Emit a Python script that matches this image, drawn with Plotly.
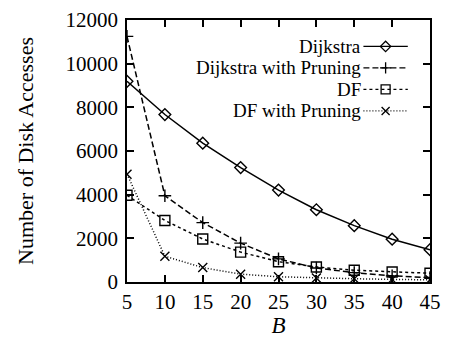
import plotly.graph_objects as go

B = [5, 10, 15, 20, 25, 30, 35, 40, 45]
dijkstra = [9190, 7670, 6360, 5240, 4210, 3310, 2580, 1960, 1480]
dijkstra_pruning = [11250, 3950, 2720, 1780, 1060, 640, 430, 280, 200]
df = [3970, 2820, 1970, 1370, 930, 690, 540, 460, 400]
df_pruning = [4940, 1180, 660, 360, 240, 180, 150, 120, 100]

names = ["Dijkstra", "Dijkstra with Pruning", "DF", "DF with Pruning"]
series = [dijkstra, dijkstra_pruning, df, df_pruning]
dashes = ["solid", "6px,3px", "3px,3px", "1px,2px"]
symbols = ["diamond-open", "cross-thin-open", "square-open", "x-thin-open"]
msizes = [9, 9, 10, 9]

FONT = "Liberation Serif"
fig = go.Figure()
for n, s, d, sym, ms in zip(names, series, dashes, symbols, msizes):
    fig.add_trace(go.Scatter(
        x=B, y=s, mode="lines+markers", name=n,
        line=dict(color="black", width=1.5, dash=d),
        marker=dict(symbol=sym, size=ms, color="black", line=dict(width=1.4, color="black")),
        showlegend=False))

# gnuplot-style key: text on the left, line sample on the right (overlay axis in pixel units)
key_y = [42, 64, 86, 108]
for n, d, sym, ms, ky in zip(names, dashes, symbols, msizes, key_y):
    fig.add_trace(go.Scatter(
        x=[372, 418], y=[ky, ky], xaxis="x2", yaxis="y2", mode="lines",
        line=dict(color="black", width=1.4, dash=d), showlegend=False, hoverinfo="skip"))
    fig.add_trace(go.Scatter(
        x=[395], y=[ky], xaxis="x2", yaxis="y2", mode="markers",
        marker=dict(symbol=sym, size=ms - 1, color="black", line=dict(width=1.3, color="black")),
        showlegend=False, hoverinfo="skip"))
    fig.add_annotation(x=371, y=ky, xref="x2", yref="y2", text=n, showarrow=False,
                       xanchor="right", yanchor="middle", borderpad=0,
                       font=dict(family=FONT, size=19, color="black"))

fig.update_layout(font=dict(family=FONT, size=21, color="black"))
axis_common = dict(showgrid=False, zeroline=False, showline=True, linecolor="black",
                   linewidth=1.5, mirror="ticks", ticks="inside", ticklen=7,
                   tickwidth=1.5, tickcolor="black", tickformat="d", ticklabeloverflow="allow",
                   tickfont=dict(family=FONT, size=21, color="black"))
fig.update_layout(
    width=449, height=338,
    margin=dict(l=127, r=8, t=15, b=55),
    paper_bgcolor="white", plot_bgcolor="white",
    xaxis=dict(range=[5, 45], tickvals=B, **axis_common,
               title=dict(text="<i>B</i>", font=dict(family=FONT, size=23, color="black"), standoff=0)),
    yaxis=dict(range=[0, 12000], tickvals=list(range(0, 12001, 2000)), **axis_common,
               ticklabelstandoff=3,
               title=dict(text="Number of Disk Accesses", font=dict(family=FONT, size=22, color="black"), standoff=26)),
    xaxis2=dict(overlaying="x", range=[127, 441], visible=False),
    yaxis2=dict(overlaying="y", range=[283, 15], visible=False),
)
fig.write_html("out.html")
